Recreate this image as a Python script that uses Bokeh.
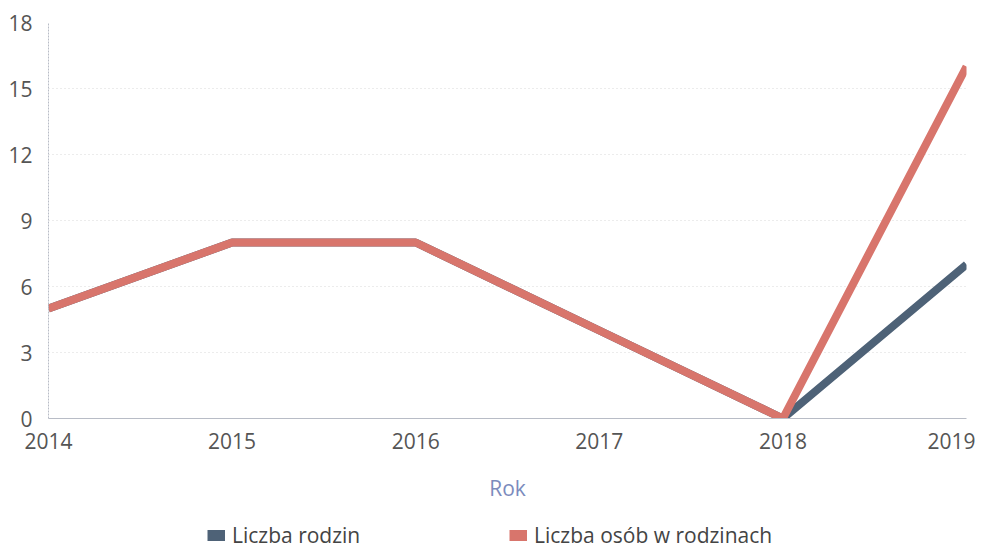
from bokeh.plotting import figure
from bokeh.layouts import column
from bokeh.models import Range1d, FixedTicker, Legend, LegendItem
from bokeh.embed import file_html
from bokeh.resources import INLINE

years = [2014, 2015, 2016, 2017, 2018, 2019]
rodziny = [5, 8, 8, 4, 0, 7]
osoby = [5, 8, 8, 4, 0, 16]
y_ticks = [0, 3, 6, 9, 12, 15, 18]
series_names = ["Liczba rodzin", "Liczba osób w rodzinach"]
colors = ["#4e6277", "#d8756c"]

FONT = "Open Sans"

p = figure(width=975, height=504, output_backend="svg", toolbar_location=None,
           x_range=Range1d(2014, 2019), y_range=Range1d(0, 18),
           min_border_left=48, min_border_right=9, min_border_top=22, min_border_bottom=86)
p.outline_line_color = None
p.background_fill_color = "white"

p.line(years, rodziny, line_color=colors[0], line_width=8)
p.line(years, osoby, line_color=colors[1], line_width=8)

p.xaxis.ticker = FixedTicker(ticks=years)
p.yaxis.ticker = FixedTicker(ticks=y_ticks)
for ax in (p.xaxis[0], p.yaxis[0]):
    ax.major_tick_line_color = None
    ax.minor_tick_line_color = None
    ax.axis_line_color = "#b8bcc6"
    ax.axis_line_width = 1
    ax.major_label_text_font = FONT
    ax.major_label_text_font_size = "21px"
    ax.major_label_text_color = "#555555"
p.yaxis.axis_line_dash = "2 1"
p.yaxis.major_label_standoff = 10
p.xaxis.major_label_standoff = 8
p.xaxis.axis_label = "Rok"
p.xaxis.axis_label_text_font = FONT
p.xaxis.axis_label_text_font_size = "21px"
p.xaxis.axis_label_text_font_style = "normal"
p.xaxis.axis_label_text_color = "#7b8bbd"
p.xaxis.axis_label_standoff = 22

p.xgrid.grid_line_color = None
p.ygrid.grid_line_color = "#d8d8d8"
p.ygrid.grid_line_dash = "1 3"
p.ygrid.grid_line_width = 1

# legend strip (series drawn far outside this strip's ranges; only legend swatches show)
lg = figure(width=975, height=45, output_backend="svg", toolbar_location=None,
            x_range=Range1d(0, 1), y_range=Range1d(0, 1),
            min_border_left=0, min_border_right=0, min_border_top=0, min_border_bottom=0,
            x_axis_location=None, y_axis_location=None)
lg.outline_line_color = None
lg.xgrid.visible = False
lg.ygrid.visible = False
s1 = lg.line(years, rodziny, line_color=colors[0], line_width=11, line_cap="butt")
s2 = lg.line(years, osoby, line_color=colors[1], line_width=11, line_cap="butt")

legend = Legend(items=[LegendItem(label=series_names[0], renderers=[s1]),
                       LegendItem(label=series_names[1], renderers=[s2])],
                orientation="horizontal", location=(159, 0),
                glyph_width=18, glyph_height=14, label_standoff=7,
                label_width=272, spacing=5, padding=0, margin=0,
                border_line_color=None, background_fill_alpha=0,
                label_text_font=FONT, label_text_font_size="21px",
                label_text_color="#444444")
lg.add_layout(legend, "center")

layout = column(p, lg, spacing=0)
open("out.html", "w").write(file_html(layout, INLINE))
